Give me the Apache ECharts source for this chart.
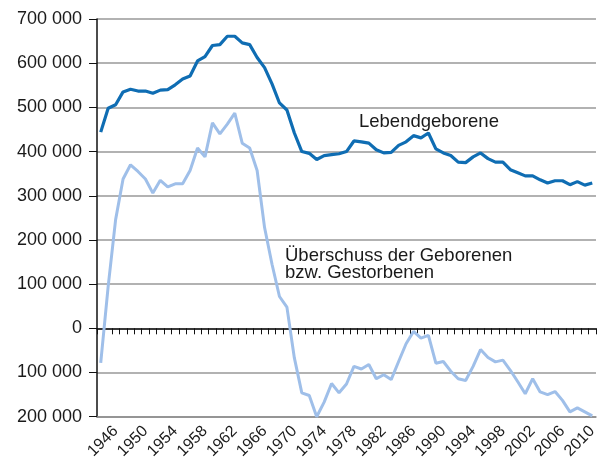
<!DOCTYPE html>
<html>
<head>
<meta charset="utf-8">
<script src="https://cdn.jsdelivr.net/npm/echarts@6/dist/echarts.min.js"></script>
<style>
  html, body { margin: 0; padding: 0; background: #fff; }
  #chart { width: 600px; height: 463px; }
</style>
</head>
<body>
<div id="chart"></div>
<script>
  // Jahre (Kategorien)
  var years = ['1944','1945','1946','1947','1948','1949','1950','1951','1952','1953',
    '1954','1955','1956','1957','1958','1959','1960','1961','1962','1963',
    '1964','1965','1966','1967','1968','1969','1970','1971','1972','1973',
    '1974','1975','1976','1977','1978','1979','1980','1981','1982','1983',
    '1984','1985','1986','1987','1988','1989','1990','1991','1992','1993',
    '1994','1995','1996','1997','1998','1999','2000','2001','2002','2003',
    '2004','2005','2006','2007','2008','2009','2010'];

  // Lebendgeborene
  var births = [444000, 498000, 506000, 535000, 541000, 537000, 537000, 532000, 539000, 540000,
    551000, 564000, 571000, 605000, 615000, 640000, 642000, 661000, 661000, 646000,
    642000, 613000, 590000, 553000, 510000, 494000, 442000, 400000, 396000, 382000,
    391000, 393000, 395000, 400000, 424000, 422000, 419000, 404000, 397000, 398000,
    414000, 422000, 436000, 431000, 442000, 406000, 397000, 391000, 376000, 375000,
    388000, 397000, 384000, 376000, 376000, 359000, 352000, 345000, 345000, 336000,
    329000, 334000, 334000, 325000, 332000, 324000, 329000];

  // Überschuss der Geborenen bzw. Gestorbenen
  var surplus = [-78000, 95000, 246000, 338000, 370000, 355000, 338000, 306000, 335000, 320000,
    327000, 327000, 357000, 408000, 388000, 465000, 440000, 462000, 487000, 419000,
    408000, 357000, 228000, 145000, 72000, 48000, -67000, -146000, -152000, -200000,
    -167000, -125000, -146000, -126000, -86000, -92000, -82000, -114000, -105000, -116000,
    -75000, -35000, -7000, -22000, -16000, -79000, -75000, -97000, -114000, -118000,
    -86000, -48000, -66000, -76000, -72000, -95000, -121000, -148000, -114000, -144000,
    -150000, -143000, -163000, -189000, -180000, -189000, -198000];

  var fontFam = '"Liberation Sans", Arial, Helvetica, sans-serif';

  function fmt(v) {
    var s = String(Math.abs(v));
    return s.replace(/\B(?=(\d{3})+(?!\d))/g, ' ');
  }

  var chart = echarts.init(document.getElementById('chart'), null, { renderer: 'canvas' });

  chart.setOption({
    animation: false,
    backgroundColor: '#fff',
    grid: { left: 97, top: 19, width: 504.5, bottom: 46.3, containLabel: false },
    xAxis: [{
      type: 'category',
      data: years,
      boundaryGap: true,
      axisLine: { onZero: false, lineStyle: { color: '#8c8c8c', width: 1.5 } },
      axisTick: { show: false },
      axisLabel: {
        rotate: 45,
        margin: 12,
        interval: function (i) { return (i - 2) % 4 === 0; },
        color: '#1a1a1a',
        fontSize: 16,
        fontFamily: fontFam
      },
      splitLine: { show: false }
    }, {
      type: 'category',
      data: years,
      boundaryGap: true,
      position: 'bottom',
      axisLine: { onZero: true, lineStyle: { color: '#111', width: 1.5 } },
      axisTick: { show: true, interval: 0, length: 6, lineStyle: { color: '#111', width: 1 } },
      axisLabel: { show: false },
      splitLine: { show: false }
    }],
    yAxis: {
      type: 'value',
      min: -200000,
      max: 700000,
      interval: 100000,
      axisLine: { show: true, lineStyle: { color: '#111', width: 1.5 } },
      axisTick: { show: true, length: 8, lineStyle: { color: '#111' } },
      axisLabel: {
        formatter: fmt,
        margin: 15,
        color: '#1a1a1a',
        fontSize: 18,
        fontFamily: fontFam
      },
      splitLine: { lineStyle: { color: '#999', width: 1.5 } }
    },
    series: [{
      name: 'Überschuss der Geborenen bzw. Gestorbenen',
      type: 'line',
      data: surplus,
      symbol: 'none',
      lineStyle: { color: '#9fbfe9', width: 3 },
      z: 3
    }, {
      name: 'Lebendgeborene',
      type: 'line',
      data: births,
      symbol: 'none',
      lineStyle: { color: '#0f6db3', width: 3.2 },
      z: 4
    }],
    graphic: [{
      type: 'text',
      left: 359,
      top: 112,
      style: { text: 'Lebendgeborene', font: '18.5px ' + fontFam, fill: '#1a1a1a' }
    }, {
      type: 'text',
      left: 285,
      top: 246,
      style: {
        text: 'Überschuss der Geborenen\nbzw. Gestorbenen',
        font: '18.5px ' + fontFam,
        fill: '#1a1a1a',
        lineHeight: 17
      }
    }]
  });

  window.onresize = function () {
    chart.resize();
  };
</script>
</body>
</html>
